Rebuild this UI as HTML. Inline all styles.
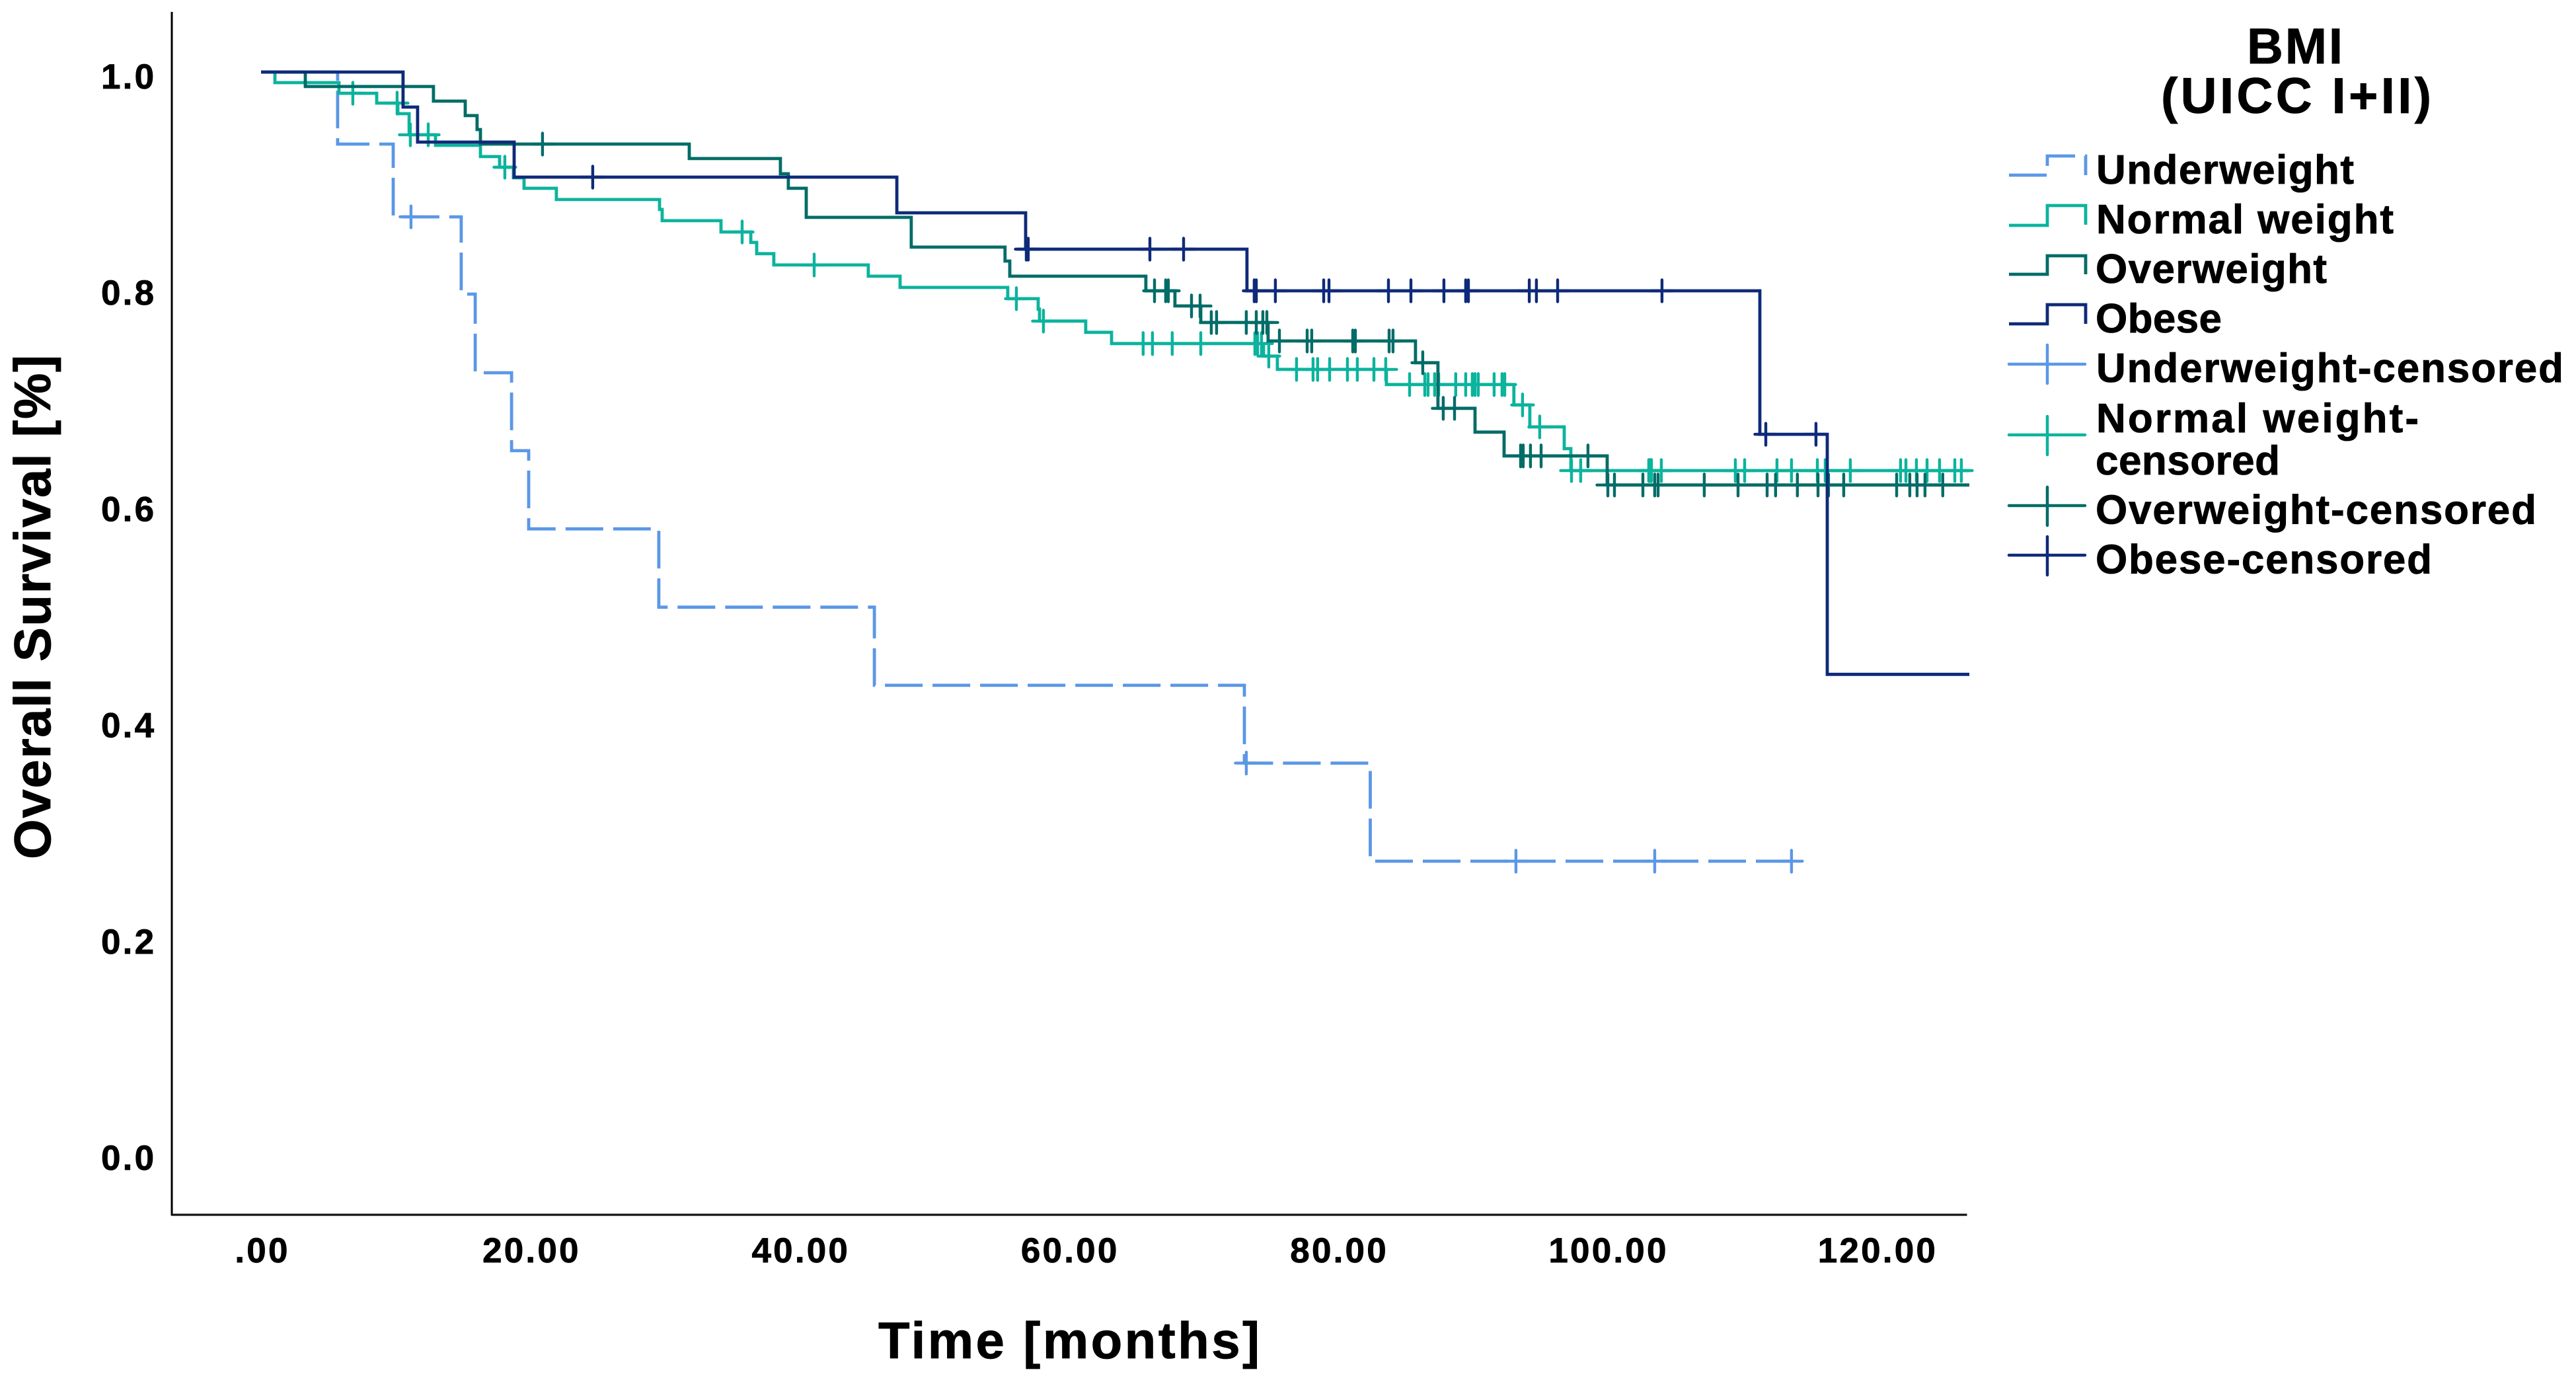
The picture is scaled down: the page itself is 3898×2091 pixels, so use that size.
<!DOCTYPE html>
<html lang="en">
<head>
<meta charset="utf-8">
<title>Overall Survival by BMI</title>
<style>
html,body{margin:0;padding:0;background:#fff;}
svg{display:block;}
text{font-family:"Liberation Sans",Arial,sans-serif;font-weight:bold;fill:#000;stroke:#000;stroke-width:0.8px;}
.tick{font-size:53px;letter-spacing:3.2px;}
.axis-title{font-size:78px;}
.leg{font-size:62px;}
.leg-title{font-size:76px;}
</style>
</head>
<body>
<svg id="chart" xmlns="http://www.w3.org/2000/svg" width="3898" height="2091" viewBox="0 0 3898 2091">
  <rect x="0" y="0" width="3898" height="2091" fill="#fff"/>
  <line x1="260" y1="18" x2="260" y2="1839" stroke="#000" stroke-width="3"/>
  <line x1="259" y1="1838" x2="2976.5" y2="1838" stroke="#111" stroke-width="3.2"/>
  <g id="y-ticks"></g>
  <g id="x-ticks"></g>
  <g id="curves"></g>
  <text class="axis-title" transform="translate(76 1300) rotate(-90)" textLength="763">Overall Survival [%]</text>
  <text class="axis-title" x="1329" y="2055" textLength="577">Time [months]</text>

  <g>
    <text class="leg-title" x="3400" y="96" textLength="145">BMI</text>
    <text class="leg-title" x="3270" y="171" textLength="409">(UICC I+II)</text>

    <g>
      <path d="M3040 265H3098V236H3156V265" fill="none" stroke="#5b97e6" stroke-width="4.8" stroke-dasharray="57 15"/>
      <text class="leg" x="3172" y="278" textLength="390">Underweight</text>
    </g>
    <g>
      <path d="M3040 341H3098V311H3156V340" fill="none" stroke="#0cb39d" stroke-width="4.8"/>
      <text class="leg" x="3172" y="353" textLength="450">Normal weight</text>
    </g>
    <g>
      <path d="M3040 415H3098V387H3156V415" fill="none" stroke="#006c67" stroke-width="4.8"/>
      <text class="leg" x="3171" y="428" textLength="350">Overweight</text>
    </g>
    <g>
      <path d="M3040 490H3098V461H3156V490" fill="none" stroke="#0f2a78" stroke-width="4.8"/>
      <text class="leg" x="3171" y="503" textLength="191">Obese</text>
    </g>
    <g>
      <path d="M3040 551H3155M3098 522V580" fill="none" stroke="#5b97e6" stroke-width="4.5" stroke-linecap="round"/>
      <text class="leg" x="3172" y="578" textLength="707">Underweight-censored</text>
    </g>
    <g>
      <path d="M3040 658H3155M3098 630V688" fill="none" stroke="#0cb39d" stroke-width="4.5" stroke-linecap="round"/>
      <text class="leg" x="3172" y="654" textLength="488">Normal weight-</text>
      <text class="leg" x="3171" y="718" textLength="279">censored</text>
    </g>
    <g>
      <path d="M3040 765H3155M3098 737V795" fill="none" stroke="#006c67" stroke-width="4.5" stroke-linecap="round"/>
      <text class="leg" x="3171" y="792.5" textLength="667">Overweight-censored</text>
    </g>
    <g>
      <path d="M3040 840H3155M3098 812V870" fill="none" stroke="#0f2a78" stroke-width="4.5" stroke-linecap="round"/>
      <text class="leg" x="3171" y="867.5" textLength="509">Obese-censored</text>
    </g>
  </g>
</svg>
<script>
const xTickValues = [0, 20, 40, 60, 80, 100, 120];
const xTickLabels = [".00", "20.00", "40.00", "60.00", "80.00", "100.00", "120.00"];
const yTickValues = [1.0, 0.8, 0.6, 0.4, 0.2, 0.0];
const yTickLabels = ["1.0", "0.8", "0.6", "0.4", "0.2", "0.0"];

const underweightTimes = [0, 5.69, 9.82, 14.87, 15.91, 18.61, 19.88, 29.55, 45.56, 73.05, 82.40, 113.69];
const underweightSurvival = [1, .9334, .8661, .7946, .7219, .6498, .5775, .5051, .4328, .3609, .2702, .2702];
const underweightCensored = [11.14, 73.19, 93.22, 103.53, 113.69];

const normalTimes = [0, 1.03, 5.79, 8.59, 10.16, 11.00, 12.96, 16.30, 17.72, 18.75, 19.54, 21.94, 29.60, 29.80, 34.17, 36.38, 36.82, 38.09, 45.11, 47.47, 55.47, 57.73, 57.83, 61.26, 63.18, 74.47, 75.50, 83.60, 93.07, 94.25, 96.81, 97.30, 126.9];
const normalSurvival = [1, .9902, .9804, .9713, .9615, .9420, .9322, .9218, .9120, .9022, .8925, .8821, .8729, .8625, .8521, .8424, .8320, .8216, .8112, .8008, .7904, .7807, .7697, .7593, .7489, .7373, .7250, .7110, .6921, .6718, .6517, .6314, .6314];
const normalCensored = [6.82, 10.11, 11.09, 12.42, 18.11, 35.74, 41.09, 56.11, 58.12, 65.53, 66.22, 67.69, 69.81, 73.83, 74.03, 74.32, 74.86, 76.92, 78.15, 78.49, 79.38, 80.70, 81.44, 82.67, 83.55, 85.32, 86.45, 86.69, 87.18, 87.48, 88.75, 89.49, 89.98, 90.18, 90.42, 91.60, 92.19, 92.39, 93.71, 94.99, 97.35, 98.03, 103.09, 103.19, 103.29, 104.02, 109.52, 110.21, 112.61, 113.69, 115.61, 116.20, 118.06, 121.79, 122.19, 122.97, 123.76, 124.69, 125.82, 126.31];

const overweightTimes = [0, 3.29, 12.81, 15.17, 16.05, 16.30, 31.81, 38.58, 39.17, 40.50, 48.30, 55.27, 55.62, 65.73, 67.89, 69.81, 74.81, 85.76, 87.43, 90.18, 92.34, 100.00, 126.9];
const overweightSurvival = [1, .9866, .9731, .9597, .9468, .9334, .9200, .9059, .8925, .8656, .8381, .8252, .8112, .7977, .7837, .7684, .7513, .7312, .6890, .6670, .6450, .6181, .6181];
const overweightCensored = [20.91, 66.37, 67.20, 67.40, 69.12, 69.76, 70.59, 70.98, 73.19, 73.93, 74.42, 74.72, 75.65, 77.71, 78.05, 81.10, 81.29, 83.80, 84.09, 86.30, 87.82, 88.66, 93.57, 93.76, 94.30, 95.09, 98.57, 100.05, 100.54, 102.65, 103.53, 103.78, 107.21, 109.72, 111.88, 112.51, 114.13, 115.66, 116.44, 117.57, 121.50, 122.48, 123.02, 123.61, 124.93];

const obeseTimes = [0, 10.55, 11.63, 18.80, 47.23, 56.80, 73.24, 111.34, 116.35, 126.9];
const obeseSurvival = [1, .9676, .9352, .9028, .8698, .8362, .7977, .6650, .4430, .4430];
const obeseCensored = [24.64, 56.85, 56.99, 66.03, 68.53, 73.78, 73.93, 75.35, 78.94, 79.33, 83.75, 85.42, 87.87, 89.49, 89.69, 94.21, 94.74, 96.32, 104.07, 111.78, 115.51];

const SVG_NS = "http://www.w3.org/2000/svg";
function xScale(t) { return 395 + t * 20.37; }
function yScale(s) { return 109 + (1 - s) * 1636; }
function survivalAt(times, surv, t) {
  let s = surv[0];
  for (let i = 0; i < times.length; i++) { if (times[i] <= t) s = surv[i]; }
  return s;
}

const yTicksGroup = document.getElementById("y-ticks");
yTickValues.forEach(function (v, i) {
  const el = document.createElementNS(SVG_NS, "text");
  
  
  el.setAttribute("class", "tick");
  el.setAttribute("x", 153);
  el.setAttribute("y", yScale(v) + 25);
  el.textContent = yTickLabels[i];
  yTicksGroup.appendChild(el);
});

const xTicksGroup = document.getElementById("x-ticks");
xTickValues.forEach(function (v, i) {
  const el = document.createElementNS(SVG_NS, "text");
  
  
  el.setAttribute("class", "tick");
  el.setAttribute("x", xScale(v) + 2);
  el.setAttribute("y", 1910);
  el.setAttribute("text-anchor", "middle");
  el.textContent = xTickLabels[i];
  xTicksGroup.appendChild(el);
});

const seriesList = [
  { key: "underweight", times: underweightTimes, surv: underweightSurvival, cens: underweightCensored, color: "#5b97e6", dash: "57 15" },
  { key: "normal-weight", times: normalTimes, surv: normalSurvival, cens: normalCensored, color: "#0cb39d", dash: null },
  { key: "overweight", times: overweightTimes, surv: overweightSurvival, cens: overweightCensored, color: "#006c67", dash: null },
  { key: "obese", times: obeseTimes, surv: obeseSurvival, cens: obeseCensored, color: "#0f2a78", dash: null }
];

const curvesGroup = document.getElementById("curves");
seriesList.forEach(function (series) {
  let d = "M" + xScale(series.times[0]).toFixed(1) + " " + yScale(series.surv[0]).toFixed(1);
  for (let i = 1; i < series.times.length; i++) {
    d += "H" + xScale(series.times[i]).toFixed(1) + "V" + yScale(series.surv[i]).toFixed(1);
  }
  const line = document.createElementNS(SVG_NS, "path");
  
  
  line.setAttribute("d", d);
  line.setAttribute("fill", "none");
  line.setAttribute("stroke", series.color);
  line.setAttribute("stroke-width", "4.8");
  line.setAttribute("stroke-linejoin", "miter");
  if (series.dash) line.setAttribute("stroke-dasharray", series.dash);
  curvesGroup.appendChild(line);

  series.cens.forEach(function (t) {
    const cx = xScale(t);
    const cy = yScale(survivalAt(series.times, series.surv, t));
    const mark = document.createElementNS(SVG_NS, "path");
    
    
    mark.setAttribute("d", "M" + (cx - 16.5).toFixed(1) + " " + cy.toFixed(1) + "h33M" + cx.toFixed(1) + " " + (cy - 16.5).toFixed(1) + "v33");
    mark.setAttribute("fill", "none");
    mark.setAttribute("stroke", series.color);
    mark.setAttribute("stroke-width", "4.4");
    mark.setAttribute("stroke-linecap", "round");
    curvesGroup.appendChild(mark);
  });
});
</script>
</body>
</html>
